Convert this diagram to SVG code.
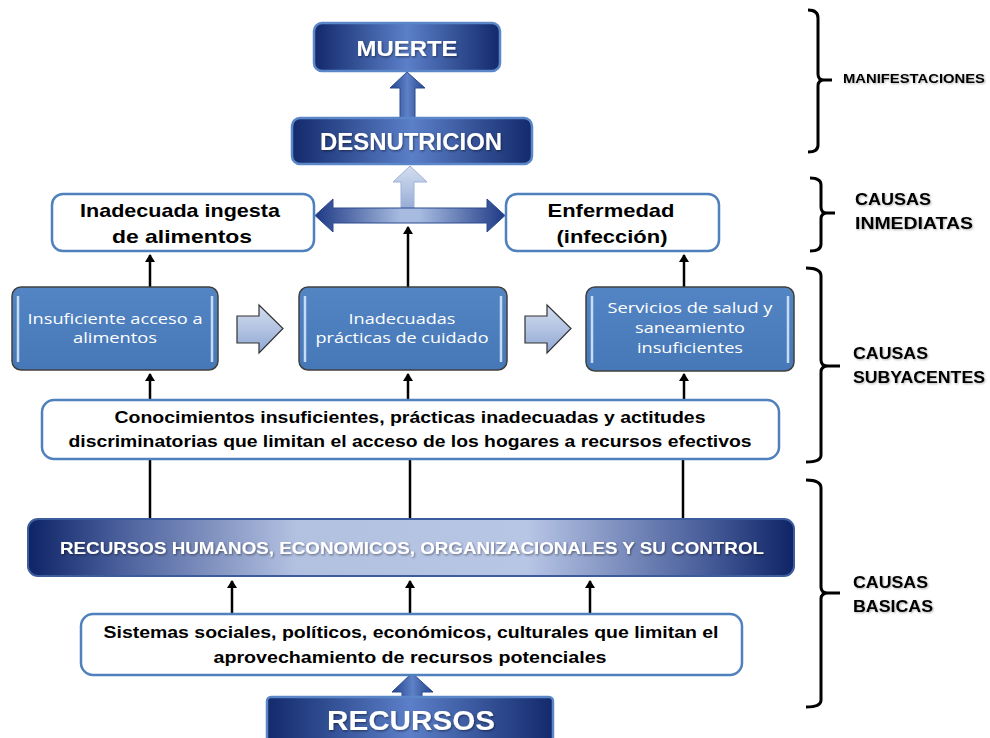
<svg xmlns="http://www.w3.org/2000/svg" width="990" height="738" viewBox="0 0 990 738">
<defs>
<style>
.lbl{font-family:"Liberation Sans",Arial,sans-serif;font-weight:bold;fill:#000}
.wt{font-family:"Liberation Sans",Arial,sans-serif;font-weight:bold;fill:#fff}
.wn{font-family:"Open Sans","Liberation Sans",Arial,sans-serif;fill:#fff;font-size:15px}
.bk{font-family:"Liberation Sans",Arial,sans-serif;font-weight:bold;fill:#000}
.wbox{fill:#fff;stroke:#4f81bd;stroke-width:2.5}
.bbox{fill:url(#gBlue);stroke:#404040;stroke-width:1.5}
.dbox{fill:url(#gDark);stroke:#5b87c9;stroke-width:2.5}
.hl{stroke:#c6dcf5;stroke-width:2.5}
.con{stroke:#000;stroke-width:2.5;fill:none}
.brk{stroke:#000;stroke-width:3;fill:none;stroke-linejoin:round}
.barrow{fill:url(#gLight);stroke:#333;stroke-width:1.2}
</style>
<linearGradient id="gDark" x1="0" y1="0" x2="1" y2="0">
<stop offset="0" stop-color="#132a6c"/>
<stop offset="0.5" stop-color="#5b7fc8"/>
<stop offset="1" stop-color="#132a6c"/>
</linearGradient>
<linearGradient id="gBar" x1="0" y1="0" x2="1" y2="0">
<stop offset="0" stop-color="#0f2466"/>
<stop offset="0.12" stop-color="#4a5f9c"/>
<stop offset="0.35" stop-color="#b3c1e1"/>
<stop offset="0.65" stop-color="#b8c6e6"/>
<stop offset="0.88" stop-color="#4a5f9c"/>
<stop offset="1" stop-color="#0f2466"/>
</linearGradient>
<linearGradient id="gBlue" x1="0" y1="0" x2="0" y2="1">
<stop offset="0" stop-color="#5385c4"/>
<stop offset="1" stop-color="#4677b7"/>
</linearGradient>
<linearGradient id="gLight" x1="0" y1="0" x2="0" y2="1">
<stop offset="0" stop-color="#d3ddef"/>
<stop offset="0.5" stop-color="#b3c3e2"/>
<stop offset="1" stop-color="#8fa7d2"/>
</linearGradient>
<linearGradient id="gH" x1="0" y1="0" x2="1" y2="0">
<stop offset="0" stop-color="#1e3a85"/>
<stop offset="0.45" stop-color="#a7bbe0"/>
<stop offset="0.55" stop-color="#a7bbe0"/>
<stop offset="1" stop-color="#1e3a85"/>
</linearGradient>
<linearGradient id="gUp" x1="0" y1="0" x2="1" y2="0">
<stop offset="0" stop-color="#24448d"/>
<stop offset="0.5" stop-color="#5d80c6"/>
<stop offset="1" stop-color="#24448d"/>
</linearGradient>
<filter id="sh" x="-5%" y="-20%" width="110%" height="140%">
<feDropShadow dx="1" dy="1.2" stdDeviation="0.8" flood-color="#000" flood-opacity="0.45"/>
</filter>
<filter id="shl" x="-5%" y="-20%" width="110%" height="140%">
<feDropShadow dx="1" dy="1" stdDeviation="0.8" flood-color="#000" flood-opacity="0.3"/>
</filter>
<marker id="ah" markerWidth="10" markerHeight="10" refX="7" refY="5" orient="auto" markerUnits="userSpaceOnUse">
<path d="M0,0 L8,5 L0,10 Z" fill="#000"/>
</marker>
</defs>
<rect width="990" height="738" fill="#fff"/>

<g id="connectors">
<line class="con" x1="150" y1="287" x2="150" y2="255" marker-end="url(#ah)"/>
<line class="con" x1="408" y1="287" x2="408" y2="227" marker-end="url(#ah)"/>
<line class="con" x1="684" y1="287" x2="684" y2="255" marker-end="url(#ah)"/>
<line class="con" x1="150" y1="400" x2="150" y2="374" marker-end="url(#ah)"/>
<line class="con" x1="408" y1="400" x2="408" y2="374" marker-end="url(#ah)"/>
<line class="con" x1="684" y1="400" x2="684" y2="374" marker-end="url(#ah)"/>
<line class="con" x1="150" y1="519" x2="150" y2="459"/>
<line class="con" x1="410" y1="519" x2="410" y2="459"/>
<line class="con" x1="683" y1="519" x2="683" y2="459"/>
<line class="con" x1="232" y1="614" x2="232" y2="581" marker-end="url(#ah)"/>
<line class="con" x1="410" y1="614" x2="410" y2="581" marker-end="url(#ah)"/>
<line class="con" x1="590" y1="614" x2="590" y2="581" marker-end="url(#ah)"/>
<polygon fill="url(#gUp)" stroke="#2a4a8e" stroke-width="1" points="407,72 425,88 415,88 415,118 400,118 400,88 390,88"/>
<polygon fill="url(#gLight)" stroke="#9fb2d8" stroke-width="1" points="410,166 427,182 414,182 414,213 401,213 401,182 393,182"/>
<polygon fill="url(#gH)" stroke="#2b4a90" stroke-width="1" points="315,215.5 333,199 333,208 487,208 487,199 505,215.5 487,232 487,223 333,223 333,232"/>
<polygon fill="url(#gUp)" stroke="#2a4a8e" stroke-width="1" points="412,673 433,692 422,692 422,698 402,698 402,692 392,692"/>
<polygon class="barrow" points="237,316 259,316 259,305 283,328.5 259,353 259,343 237,343"/>
<polygon class="barrow" points="525,316 547,316 547,305 571,328.5 547,353 547,343 525,343"/>
</g>

<g id="muerte">
<rect class="dbox" x="314" y="23" width="186" height="48" rx="8"/>
<text class="wt" x="407" y="56" font-size="22" text-anchor="middle" textLength="101" lengthAdjust="spacingAndGlyphs" filter="url(#sh)">MUERTE</text>
</g>
<g id="desnutricion">
<rect class="dbox" x="292" y="118" width="240" height="46" rx="8"/>
<text class="wt" x="411" y="150" font-size="23" text-anchor="middle" textLength="182" lengthAdjust="spacingAndGlyphs" filter="url(#sh)">DESNUTRICION</text>
</g>
<g id="ingesta">
<rect class="wbox" x="52" y="194" width="262" height="57" rx="11"/>
<text class="bk" x="180" y="217" font-size="19" text-anchor="middle" textLength="200" lengthAdjust="spacingAndGlyphs">Inadecuada ingesta</text>
<text class="bk" x="182" y="243" font-size="19" text-anchor="middle" textLength="140" lengthAdjust="spacingAndGlyphs">de alimentos</text>
</g>
<g id="enfermedad">
<rect class="wbox" x="506" y="194" width="213" height="57" rx="11"/>
<text class="bk" x="611" y="217" font-size="19" text-anchor="middle" textLength="127" lengthAdjust="spacingAndGlyphs">Enfermedad</text>
<text class="bk" x="612" y="243" font-size="19" text-anchor="middle" textLength="111" lengthAdjust="spacingAndGlyphs">(infección)</text>
</g>
<g id="acceso">
<rect class="bbox" x="12" y="287" width="206" height="83" rx="9"/>
<line class="hl" x1="18" y1="296" x2="18" y2="362"/>
<line class="hl" x1="212" y1="296" x2="212" y2="362"/>
<text class="wn" x="115" y="324" text-anchor="middle" textLength="175" lengthAdjust="spacingAndGlyphs">Insuficiente acceso a</text>
<text class="wn" x="115" y="343" text-anchor="middle" textLength="84" lengthAdjust="spacingAndGlyphs">alimentos</text>
</g>
<g id="practicas">
<rect class="bbox" x="299" y="287" width="208" height="83" rx="9"/>
<line class="hl" x1="305" y1="296" x2="305" y2="362"/>
<line class="hl" x1="501" y1="296" x2="501" y2="362"/>
<text class="wn" x="402" y="324" text-anchor="middle" textLength="107" lengthAdjust="spacingAndGlyphs">Inadecuadas</text>
<text class="wn" x="402" y="343" text-anchor="middle" textLength="173" lengthAdjust="spacingAndGlyphs">prácticas de cuidado</text>
</g>
<g id="servicios">
<rect class="bbox" x="586" y="287" width="208" height="84" rx="9"/>
<line class="hl" x1="592" y1="296" x2="592" y2="363"/>
<line class="hl" x1="788" y1="296" x2="788" y2="363"/>
<text class="wn" x="690" y="313" text-anchor="middle" textLength="165" lengthAdjust="spacingAndGlyphs">Servicios de salud y</text>
<text class="wn" x="690" y="333" text-anchor="middle" textLength="110" lengthAdjust="spacingAndGlyphs">saneamiento</text>
<text class="wn" x="690" y="353" text-anchor="middle" textLength="106" lengthAdjust="spacingAndGlyphs">insuficientes</text>
</g>
<g id="conocimientos">
<rect class="wbox" x="42" y="400" width="737" height="59" rx="12"/>
<text class="bk" x="410" y="423" font-size="16" text-anchor="middle" textLength="591" lengthAdjust="spacingAndGlyphs">Conocimientos insuficientes, prácticas inadecuadas y actitudes</text>
<text class="bk" x="410" y="447" font-size="16" text-anchor="middle" textLength="683" lengthAdjust="spacingAndGlyphs">discriminatorias que limitan el acceso de los hogares a recursos efectivos</text>
</g>
<g id="recursos-humanos">
<rect x="28" y="519" width="766" height="57" rx="10" fill="url(#gBar)" stroke="#3d5c9c" stroke-width="2"/>
<text class="wt" x="412" y="554" font-size="17" text-anchor="middle" textLength="704" lengthAdjust="spacingAndGlyphs" filter="url(#sh)">RECURSOS HUMANOS, ECONOMICOS, ORGANIZACIONALES Y SU CONTROL</text>
</g>
<g id="sistemas">
<rect class="wbox" x="81" y="614" width="661" height="61" rx="12"/>
<text class="bk" x="411" y="638" font-size="16" text-anchor="middle" textLength="615" lengthAdjust="spacingAndGlyphs">Sistemas sociales, políticos, económicos, culturales que limitan el</text>
<text class="bk" x="410" y="663" font-size="16" text-anchor="middle" textLength="393" lengthAdjust="spacingAndGlyphs">aprovechamiento de recursos potenciales</text>
</g>
<g id="recursos">
<rect class="dbox" x="267" y="697" width="286" height="50" rx="4"/>
<text class="wt" x="411" y="730" font-size="27" text-anchor="middle" textLength="168" lengthAdjust="spacingAndGlyphs" filter="url(#sh)">RECURSOS</text>
</g>

<g id="bracket-manifestaciones">
<path class="brk" d="M808,10 Q818,10 818,18 L818,74 Q818,80 824,80 L832,80 M824,80 Q818,80 818,86 L818,145 Q818,152 808,152"/>
<text class="lbl" x="843" y="83" font-size="13" textLength="142" lengthAdjust="spacingAndGlyphs" filter="url(#shl)">MANIFESTACIONES</text>
</g>
<g id="bracket-inmediatas">
<path class="brk" d="M810,178 Q821,178 821,185 L821,207 Q821,213 827,213 L835,213 M827,213 Q821,213 821,219 L821,244 Q821,251 810,251"/>
<text class="lbl" x="855" y="205" font-size="16" textLength="76" lengthAdjust="spacingAndGlyphs" filter="url(#shl)">CAUSAS</text>
<text class="lbl" x="855" y="229" font-size="16" textLength="118" lengthAdjust="spacingAndGlyphs" filter="url(#shl)">INMEDIATAS</text>
</g>
<g id="bracket-subyacentes">
<path class="brk" d="M806,268 Q821,268 821,276 L821,360 Q821,366 828,366 L840,366 M828,366 Q821,366 821,372 L821,455 Q821,462 806,462"/>
<text class="lbl" x="853" y="359" font-size="16" textLength="75" lengthAdjust="spacingAndGlyphs" filter="url(#shl)">CAUSAS</text>
<text class="lbl" x="853" y="383" font-size="16" textLength="132" lengthAdjust="spacingAndGlyphs" filter="url(#shl)">SUBYACENTES</text>
</g>
<g id="bracket-basicas">
<path class="brk" d="M806,480 Q821,480 821,488 L821,587 Q821,593 828,593 L840,593 M828,593 Q821,593 821,599 L821,700 Q821,707 806,707"/>
<text class="lbl" x="853" y="588" font-size="16" textLength="75" lengthAdjust="spacingAndGlyphs" filter="url(#shl)">CAUSAS</text>
<text class="lbl" x="853" y="612" font-size="16" textLength="80" lengthAdjust="spacingAndGlyphs" filter="url(#shl)">BASICAS</text>
</g>
</svg>
